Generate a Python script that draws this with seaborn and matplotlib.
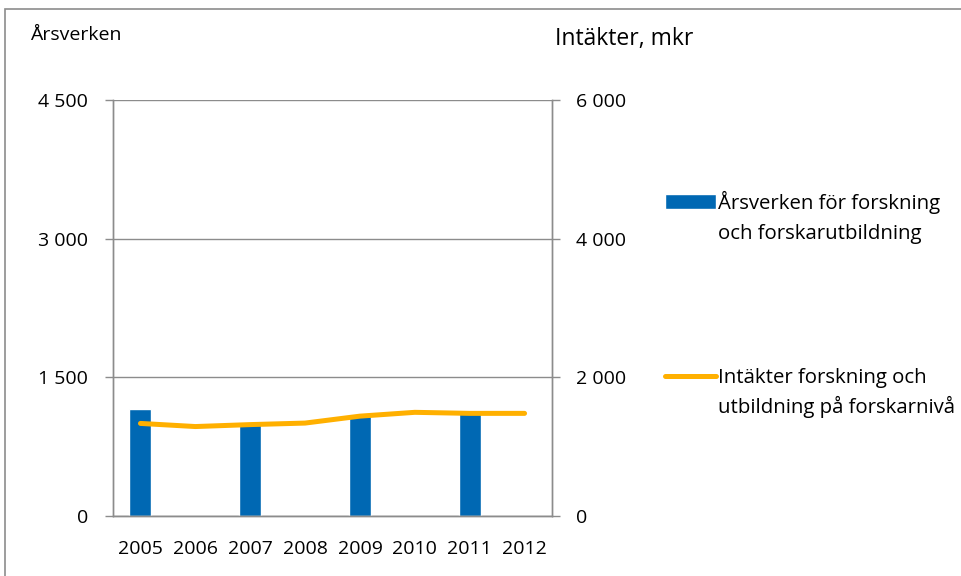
import matplotlib
matplotlib.use('Agg')
import matplotlib.pyplot as plt
from matplotlib.patches import Rectangle
from matplotlib.ticker import FuncFormatter
import seaborn as sns
import pandas as pd
import numpy as np

# Data
years = ['2005', '2006', '2007', '2008', '2009', '2010', '2011', '2012']
arsverken = [1160, np.nan, 1020, np.nan, 1080, np.nan, 1110, np.nan]
intakter = [1335, 1290, 1318, 1340, 1440, 1495, 1480, 1480]

bar_label = ['Årsverken för forskning', 'och forskarutbildning']
line_label = ['Intäkter forskning och', 'utbildning på forskarnivå']

df = pd.DataFrame({'År': years, 'Årsverken': arsverken, 'Intäkter': intakter})

sns.set_style('white')
plt.rcParams['font.family'] = ['Open Sans', 'DejaVu Sans']
plt.rcParams['text.color'] = 'black'

bar_color = '#0068B3'
line_color = '#FFB000'
grey = '#8C8C8C'
fs = 14

fig = plt.figure(figsize=(9.62, 5.76), dpi=100)
ax = fig.add_axes([0.1175, 0.1042, 0.4563, 0.7222])

sns.barplot(data=df, x='År', y='Årsverken', order=years, color=bar_color,
            width=0.4, saturation=1, ax=ax, label=bar_label[0])
ax.set_ylim(0, 4500)
ax.set_yticks([0, 1500, 3000, 4500])
ax.yaxis.grid(True, color=grey, linewidth=1)
ax.set_axisbelow(True)

ax2 = ax.twinx()
sns.lineplot(data=df, x='År', y='Intäkter', color=line_color, linewidth=3.6,
             ax=ax2, label=line_label[0], solid_capstyle='round')
ax2.set_ylim(0, 6000)
ax2.set_yticks([0, 2000, 4000, 6000])
ax.set_xlim(-0.5, len(years) - 0.5)

fmt = FuncFormatter(lambda v, p: f'{int(v):,}'.replace(',', ' '))
ax.yaxis.set_major_formatter(fmt)
ax2.yaxis.set_major_formatter(fmt)

# category boundary ticks on x
ax.set_xticks(np.arange(len(years)))
ax.set_xticklabels(years)
ax.set_xticks(np.arange(-0.5, len(years)), minor=True)
ax.tick_params(axis='x', which='major', length=0, labelsize=fs, pad=17, labelcolor='black')
ax.tick_params(axis='x', which='minor', length=6, color=grey, width=1, direction='out')
ax.tick_params(axis='y', length=6, color=grey, width=1, direction='out', labelsize=fs,
               left=True, pad=12, labelcolor='black')
ax2.tick_params(axis='y', length=6, color=grey, width=1, direction='out', labelsize=fs,
                right=True, pad=11, labelcolor='black')

for a in (ax, ax2):
    a.set_xlabel('')
    a.set_ylabel('')
    a.spines['top'].set_visible(False)
    for s in ('left', 'right', 'bottom'):
        a.spines[s].set_color(grey)
        a.spines[s].set_linewidth(1)

ax.get_legend() and ax.get_legend().remove()
ax2.get_legend() and ax2.get_legend().remove()

h1, l1 = ax.get_legend_handles_labels()
h2, l2 = ax2.get_legend_handles_labels()
leg1 = fig.legend([h1[0]], [l1[0]], loc='center left', bbox_to_anchor=(0.691, 0.649),
                  frameon=False, fontsize=fs + 0.7, handlelength=2.5, handleheight=0.7,
                  handletextpad=0.1, borderaxespad=0, borderpad=0)
leg2 = fig.legend([h2[0]], [l2[0]], loc='center left', bbox_to_anchor=(0.691, 0.344),
                  frameon=False, fontsize=fs + 0.7, handlelength=2.5,
                  handletextpad=0.1, borderaxespad=0, borderpad=0)

# second line of each legend label, placed under the first
fig.canvas.draw()
inv = fig.transFigure.inverted()
for leg, lab in ((leg1, bar_label), (leg2, line_label)):
    t = leg.get_texts()[0]
    bb = t.get_window_extent().transformed(inv)
    fig.text(bb.x0, bb.y0 - 30 / 576, lab[1], fontsize=fs + 0.7, va='bottom', ha='left')

fig.text(0.031, 0.94, 'Årsverken', fontsize=fs, va='center')
fig.text(0.577, 0.933, 'Intäkter, mkr', fontsize=16.5, va='center')

fig.patches.append(Rectangle((0.005, -0.1), 1.2, 1.084, transform=fig.transFigure,
                             fill=False, edgecolor=grey, linewidth=1.2))

fig.savefig('out.png', dpi=100)
